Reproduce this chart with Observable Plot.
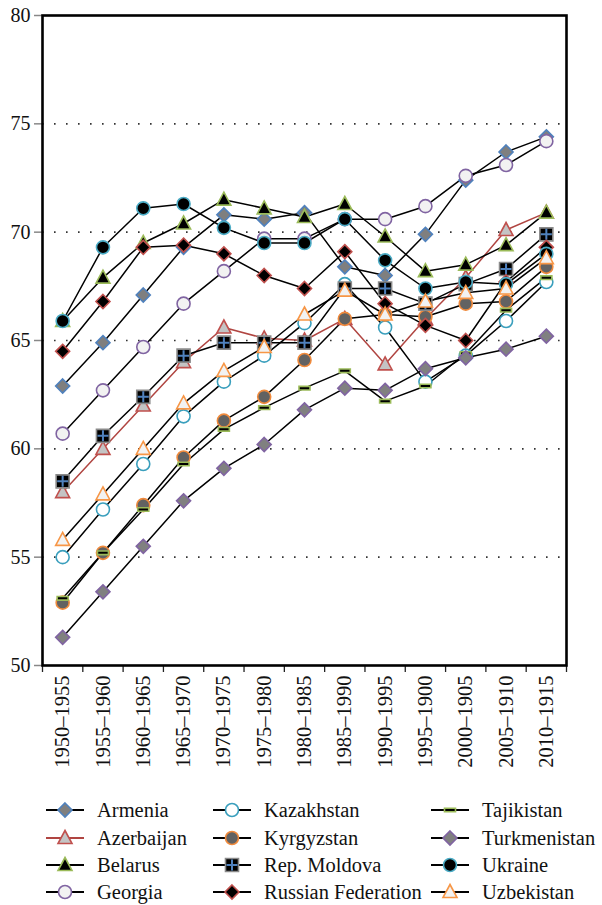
<!DOCTYPE html>
<html>
<head>
<meta charset="utf-8">
<script src="https://cdn.jsdelivr.net/npm/d3@7"></script>
<script src="https://cdn.jsdelivr.net/npm/@observablehq/plot@0.6"></script>
<style>
  html, body { margin: 0; padding: 0; background: #fff; }
  #chart { width: 602px; }
  #chart svg, #chart svg text { font-family: "Liberation Serif", serif !important; }
  #legend {
    position: relative; width: 602px; height: 125px;
    font-family: "Liberation Serif", serif; font-size: 20.5px; color: #111;
  }
  .item { position: absolute; display: flex; align-items: center; height: 27px; white-space: nowrap; }
  .item svg { margin-right: 12px; }
</style>
</head>
<body>
<div id="chart"></div>
<div id="legend"></div>
<script>
// ---- data ----
const periods = ["1950–1955","1955–1960","1960–1965","1965–1970","1970–1975","1975–1980","1980–1985","1985–1990","1990–1995","1995–1900","2000–1905","2005–1910","2010–1915"];
const countries = ["Armenia","Azerbaijan","Belarus","Georgia","Kazakhstan","Kyrgyzstan","Rep. Moldova","Russian Federation","Tajikistan","Turkmenistan","Ukraine","Uzbekistan"];
const armenia      = [62.9, 64.9, 67.1, 69.3, 70.8, 70.6, 70.9, 68.4, 68.0, 69.9, 72.4, 73.7, 74.4];
const azerbaijan   = [58.0, 60.0, 62.0, 64.0, 65.6, 65.1, 65.0, 66.0, 63.9, 66.0, 67.9, 70.1, 70.9];
const belarus      = [65.9, 67.9, 69.5, 70.4, 71.5, 71.1, 70.7, 71.3, 69.8, 68.2, 68.5, 69.4, 70.9];
const georgia      = [60.7, 62.7, 64.7, 66.7, 68.2, 69.7, 69.7, 70.6, 70.6, 71.2, 72.6, 73.1, 74.2];
const kazakhstan   = [55.0, 57.2, 59.3, 61.5, 63.1, 64.3, 65.8, 67.6, 65.6, 63.1, 64.3, 65.9, 67.7];
const kyrgyzstan   = [52.9, 55.2, 57.4, 59.6, 61.3, 62.4, 64.1, 66.0, 66.2, 66.1, 66.7, 66.8, 68.4];
const moldova      = [58.5, 60.6, 62.4, 64.3, 64.9, 64.9, 64.9, 67.4, 67.4, 66.7, 67.6, 68.3, 69.9];
const russia       = [64.5, 66.8, 69.3, 69.4, 69.0, 68.0, 67.4, 69.1, 66.7, 65.7, 65.0, 67.7, 69.3];
const tajikistan   = [53.1, 55.2, 57.2, 59.3, 60.9, 61.9, 62.8, 63.6, 62.2, 62.9, 64.4, 66.4, 67.9];
const turkmenistan = [51.3, 53.4, 55.5, 57.6, 59.1, 60.2, 61.8, 62.8, 62.7, 63.7, 64.2, 64.6, 65.2];
const ukraine      = [65.9, 69.3, 71.1, 71.3, 70.2, 69.5, 69.5, 70.6, 68.7, 67.4, 67.7, 67.6, 69.0];
const uzbekistan   = [55.8, 57.9, 60.0, 62.1, 63.6, 64.7, 66.2, 67.3, 66.2, 66.8, 67.2, 67.4, 68.8];
const yTicks = [50, 55, 60, 65, 70, 75, 80];
const gridTicks = [55, 60, 65, 70, 75];

const seriesValues = [armenia, azerbaijan, belarus, georgia, kazakhstan, kyrgyzstan, moldova, russia, tajikistan, turkmenistan, ukraine, uzbekistan];

// ---- marker shapes ----
const shapes = {
  diamond: {draw(c) { const h = 7; c.moveTo(0, -h); c.lineTo(h, 0); c.lineTo(0, h); c.lineTo(-h, 0); c.closePath(); }},
  circle: {draw(c) { const r = 6.5; c.moveTo(r, 0); c.arc(0, 0, r, 0, 2 * Math.PI); c.closePath(); }},
  triangle: {draw(c) { const w = 7, t = -7.5, b = 5.5; c.moveTo(0, t); c.lineTo(w, b); c.lineTo(-w, b); c.closePath(); }},
  square: {draw(c) { const s = 6.5; c.rect(-s, -s, 2 * s, 2 * s); }},
  plus: {draw(c) { const s = 5.5; c.moveTo(-s, 0); c.lineTo(s, 0); c.moveTo(0, -s); c.lineTo(0, s); }},
  dash: {draw(c) { c.rect(-5.5, -1.8, 11, 3.6); }}
};

// ---- styles ----
const styles = {
  "Armenia":            {shape: "diamond",  fill: "#7f7f7f", stroke: "#4f81bd", line: "#000"},
  "Azerbaijan":         {shape: "triangle", fill: "#c4c4c4", stroke: "#c0504d", line: "#b04541"},
  "Belarus":            {shape: "triangle", fill: "#000",    stroke: "#9bbb59", line: "#000"},
  "Georgia":            {shape: "circle",   fill: "#f2f2f2", stroke: "#8064a2", line: "#000"},
  "Kazakhstan":         {shape: "circle",   fill: "#fff",    stroke: "#3a9fbd", line: "#000"},
  "Kyrgyzstan":         {shape: "circle",   fill: "#626262", stroke: "#f08a3c", line: "#000"},
  "Rep. Moldova":       {shape: "square",   fill: "#000",    stroke: "#8a8a8a", line: "#000", cross: "#4f81bd"},
  "Russian Federation": {shape: "diamond",  fill: "#000",    stroke: "#c0504d", line: "#000"},
  "Tajikistan":         {shape: "dash",     fill: "#000",    stroke: "#9bbb59", line: "#000"},
  "Turkmenistan":       {shape: "diamond",  fill: "#808080", stroke: "#8064a2", line: "#000"},
  "Ukraine":            {shape: "circle",   fill: "#000",    stroke: "#4bacc6", line: "#000"},
  "Uzbekistan":         {shape: "triangle", fill: "#f2f2f2", stroke: "#f79646", line: "#000"}
};

const rows = countries.map((name, k) => seriesValues[k].map((v, i) => ({name, i, v})));

const marks = [
  Plot.gridY(gridTicks, {stroke: "#333", strokeOpacity: 1, strokeWidth: 1.6, strokeDasharray: "1.6,10.4"}),
  Plot.axisY(yTicks, {tickSize: 8, tickPadding: 4, stroke: "#888", strokeWidth: 1.5, label: null, fontSize: 20}),
  Plot.axisX(d3.range(14), {tickSize: 7, tickFormat: () => "", stroke: "#222", strokeWidth: 1.3, label: null}),
  Plot.axisX(d3.range(13).map(i => i + 0.5), {tickSize: 0, tickPadding: 10, tickRotate: -90, label: null, fontSize: 20.5, tickFormat: v => periods[Math.floor(v)]}),
  Plot.frame({stroke: "#000", strokeWidth: 2.6})
];
rows.forEach((data, k) => {
  const st = styles[countries[k]];
  marks.push(Plot.line(data, {x: d => d.i + 0.5, y: "v", stroke: st.line, strokeWidth: 1.5}));
});
rows.forEach((data, k) => {
  const st = styles[countries[k]];
  marks.push(Plot.dot(data, {x: d => d.i + 0.5, y: "v", symbol: shapes[st.shape], r: 6, fill: st.fill, stroke: st.stroke, strokeWidth: 1.6}));
  if (st.cross) marks.push(Plot.dot(data, {x: d => d.i + 0.5, y: "v", symbol: shapes.plus, r: 6, fill: "none", stroke: st.cross, strokeWidth: 2}));
});

const chart = Plot.plot({
  width: 602, height: 780,
  marginLeft: 42, marginRight: 36, marginTop: 15, marginBottom: 115,
  x: {type: "linear", domain: [0, 13], label: null},
  y: {domain: [50, 80], label: null},
  style: {fontFamily: "Liberation Serif", fontSize: "20px", color: "#111", background: "#fff", overflow: "visible"},
  marks
});
document.getElementById("chart").appendChild(chart);

// ---- legend ----
const legend = document.getElementById("legend");
const colX = [45, 212, 430];
const rowY = [30, 58, 85, 112];
countries.forEach((name, k) => {
  const st = styles[name];
  const col = Math.floor(k / 4), row = k % 4;
  const item = document.createElement("div");
  item.className = "item";
  item.style.left = colX[col] + "px";
  item.style.top = (rowY[row] - 13.5) + "px";
  const svg = d3.create("svg").attr("width", 40).attr("height", 20);
  svg.append("line").attr("x1", 1).attr("x2", 39).attr("y1", 10).attr("y2", 10).attr("stroke", st.line).attr("stroke-width", 1.8);
  const g = svg.append("g").attr("transform", "translate(20,10)");
  g.append("path").attr("d", d3.symbol(shapes[st.shape])()).attr("fill", st.fill).attr("stroke", st.stroke).attr("stroke-width", 1.6);
  if (st.cross) g.append("path").attr("d", d3.symbol(shapes.plus)()).attr("fill", "none").attr("stroke", st.cross).attr("stroke-width", 2);
  item.appendChild(svg.node());
  const span = document.createElement("span");
  span.textContent = name;
  item.appendChild(span);
  legend.appendChild(item);
});
</script>
</body>
</html>
